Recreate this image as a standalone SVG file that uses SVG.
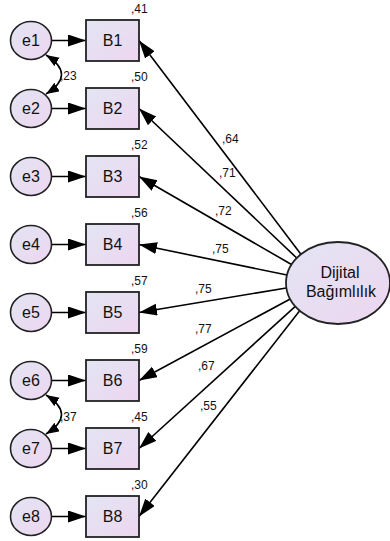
<svg xmlns="http://www.w3.org/2000/svg" width="390" height="541" viewBox="0 0 390 541">
<defs>
<linearGradient id="g" x1="0" y1="0" x2="1" y2="1">
<stop offset="0" stop-color="#e3e5f3"/>
<stop offset="1" stop-color="#edd6f0"/>
</linearGradient>
<marker id="ah" markerUnits="userSpaceOnUse" markerWidth="18" markerHeight="13" refX="18" refY="6" orient="auto-start-reverse">
<path d="M0,0 L18,6 L0,12 z" fill="#000"/>
</marker>
<marker id="ahs" markerUnits="userSpaceOnUse" markerWidth="13" markerHeight="11" refX="13" refY="5" orient="auto-start-reverse">
<path d="M0,0 L13,5 L0,10 z" fill="#000"/>
</marker>
</defs>
<style>
.box{fill:url(#g);stroke:#222;stroke-width:1.8}
.err{fill:url(#g);stroke:#222;stroke-width:1.6}
.lbl{font-family:"Liberation Sans",Arial,sans-serif;font-size:16px;fill:#111;text-anchor:middle}
.num{font-family:"Liberation Sans",Arial,sans-serif;font-size:12px;fill:#111}
.ar{stroke:#000;stroke-width:1.6;fill:none;marker-end:url(#ah)}
.cv{stroke:#000;stroke-width:1.6;fill:none;marker-start:url(#ahs);marker-end:url(#ahs)}
</style>
<g id="connectors">
<path class="ar" d="M52,40.5 L86,40.5"/>
<path class="ar" d="M52,108.5 L86,108.5"/>
<path class="ar" d="M52,176.5 L86,176.5"/>
<path class="ar" d="M52,244.5 L86,244.5"/>
<path class="ar" d="M52,312.5 L86,312.5"/>
<path class="ar" d="M52,380.5 L86,380.5"/>
<path class="ar" d="M52,448.5 L86,448.5"/>
<path class="ar" d="M52,516.5 L86,516.5"/>
<path class="ar" d="M300.9,254.2 L139,40.5"/>
<path class="ar" d="M296.7,258 L139,108.5"/>
<path class="ar" d="M291.5,264.5 L139,176.5"/>
<path class="ar" d="M287,275 L139,244.5"/>
<path class="ar" d="M286.3,288 L139,312.5"/>
<path class="ar" d="M290.2,299 L139,380.5"/>
<path class="ar" d="M295.3,306.4 L139,448.5"/>
<path class="ar" d="M299.7,310.7 L139,516.5"/>
<path class="cv" d="M46,55 Q77,74.5 46,94"/>
<path class="cv" d="M46,395 Q77,414.5 46,434"/>
<text class="num" x="60" y="80">,23</text>
<text class="num" x="60" y="421">,37</text>
<text class="num" x="222" y="143">,64</text>
<text class="num" x="219" y="177">,71</text>
<text class="num" x="215" y="215">,72</text>
<text class="num" x="212" y="253">,75</text>
<text class="num" x="195" y="293">,75</text>
<text class="num" x="195" y="333">,77</text>
<text class="num" x="198" y="370">,67</text>
<text class="num" x="200" y="410">,55</text>
</g>
<g id="e1"><ellipse class="err" cx="31" cy="40.5" rx="20.5" ry="19"/><text class="lbl" x="31" y="46">e1</text></g>
<g id="e2"><ellipse class="err" cx="31" cy="108.5" rx="20.5" ry="19"/><text class="lbl" x="31" y="114">e2</text></g>
<g id="e3"><ellipse class="err" cx="31" cy="176.5" rx="20.5" ry="19"/><text class="lbl" x="31" y="182">e3</text></g>
<g id="e4"><ellipse class="err" cx="31" cy="244.5" rx="20.5" ry="19"/><text class="lbl" x="31" y="250">e4</text></g>
<g id="e5"><ellipse class="err" cx="31" cy="312.5" rx="20.5" ry="19"/><text class="lbl" x="31" y="318">e5</text></g>
<g id="e6"><ellipse class="err" cx="31" cy="380.5" rx="20.5" ry="19"/><text class="lbl" x="31" y="386">e6</text></g>
<g id="e7"><ellipse class="err" cx="31" cy="448.5" rx="20.5" ry="19"/><text class="lbl" x="31" y="454">e7</text></g>
<g id="e8"><ellipse class="err" cx="31" cy="516.5" rx="20.5" ry="19"/><text class="lbl" x="31" y="522">e8</text></g>
<g id="B1"><rect class="box" x="86" y="20" width="53" height="41"/><text class="lbl" x="112.5" y="46">B1</text><text class="num" x="131" y="13">,41</text></g>
<g id="B2"><rect class="box" x="86" y="88" width="53" height="41"/><text class="lbl" x="112.5" y="114">B2</text><text class="num" x="131" y="81">,50</text></g>
<g id="B3"><rect class="box" x="86" y="156" width="53" height="41"/><text class="lbl" x="112.5" y="182">B3</text><text class="num" x="131" y="149">,52</text></g>
<g id="B4"><rect class="box" x="86" y="224" width="53" height="41"/><text class="lbl" x="112.5" y="250">B4</text><text class="num" x="131" y="217">,56</text></g>
<g id="B5"><rect class="box" x="86" y="292" width="53" height="41"/><text class="lbl" x="112.5" y="318">B5</text><text class="num" x="131" y="285">,57</text></g>
<g id="B6"><rect class="box" x="86" y="360" width="53" height="41"/><text class="lbl" x="112.5" y="386">B6</text><text class="num" x="131" y="353">,59</text></g>
<g id="B7"><rect class="box" x="86" y="428" width="53" height="41"/><text class="lbl" x="112.5" y="454">B7</text><text class="num" x="131" y="421">,45</text></g>
<g id="B8"><rect class="box" x="86" y="496" width="53" height="41"/><text class="lbl" x="112.5" y="522">B8</text><text class="num" x="131" y="489">,30</text></g>
<g id="DijitalBagimlilik"><ellipse class="box" cx="338" cy="283" rx="52" ry="41"/><text class="lbl" x="340" y="278">Dijital</text><text class="lbl" x="341" y="297">Bağımlılık</text></g>
</svg>
